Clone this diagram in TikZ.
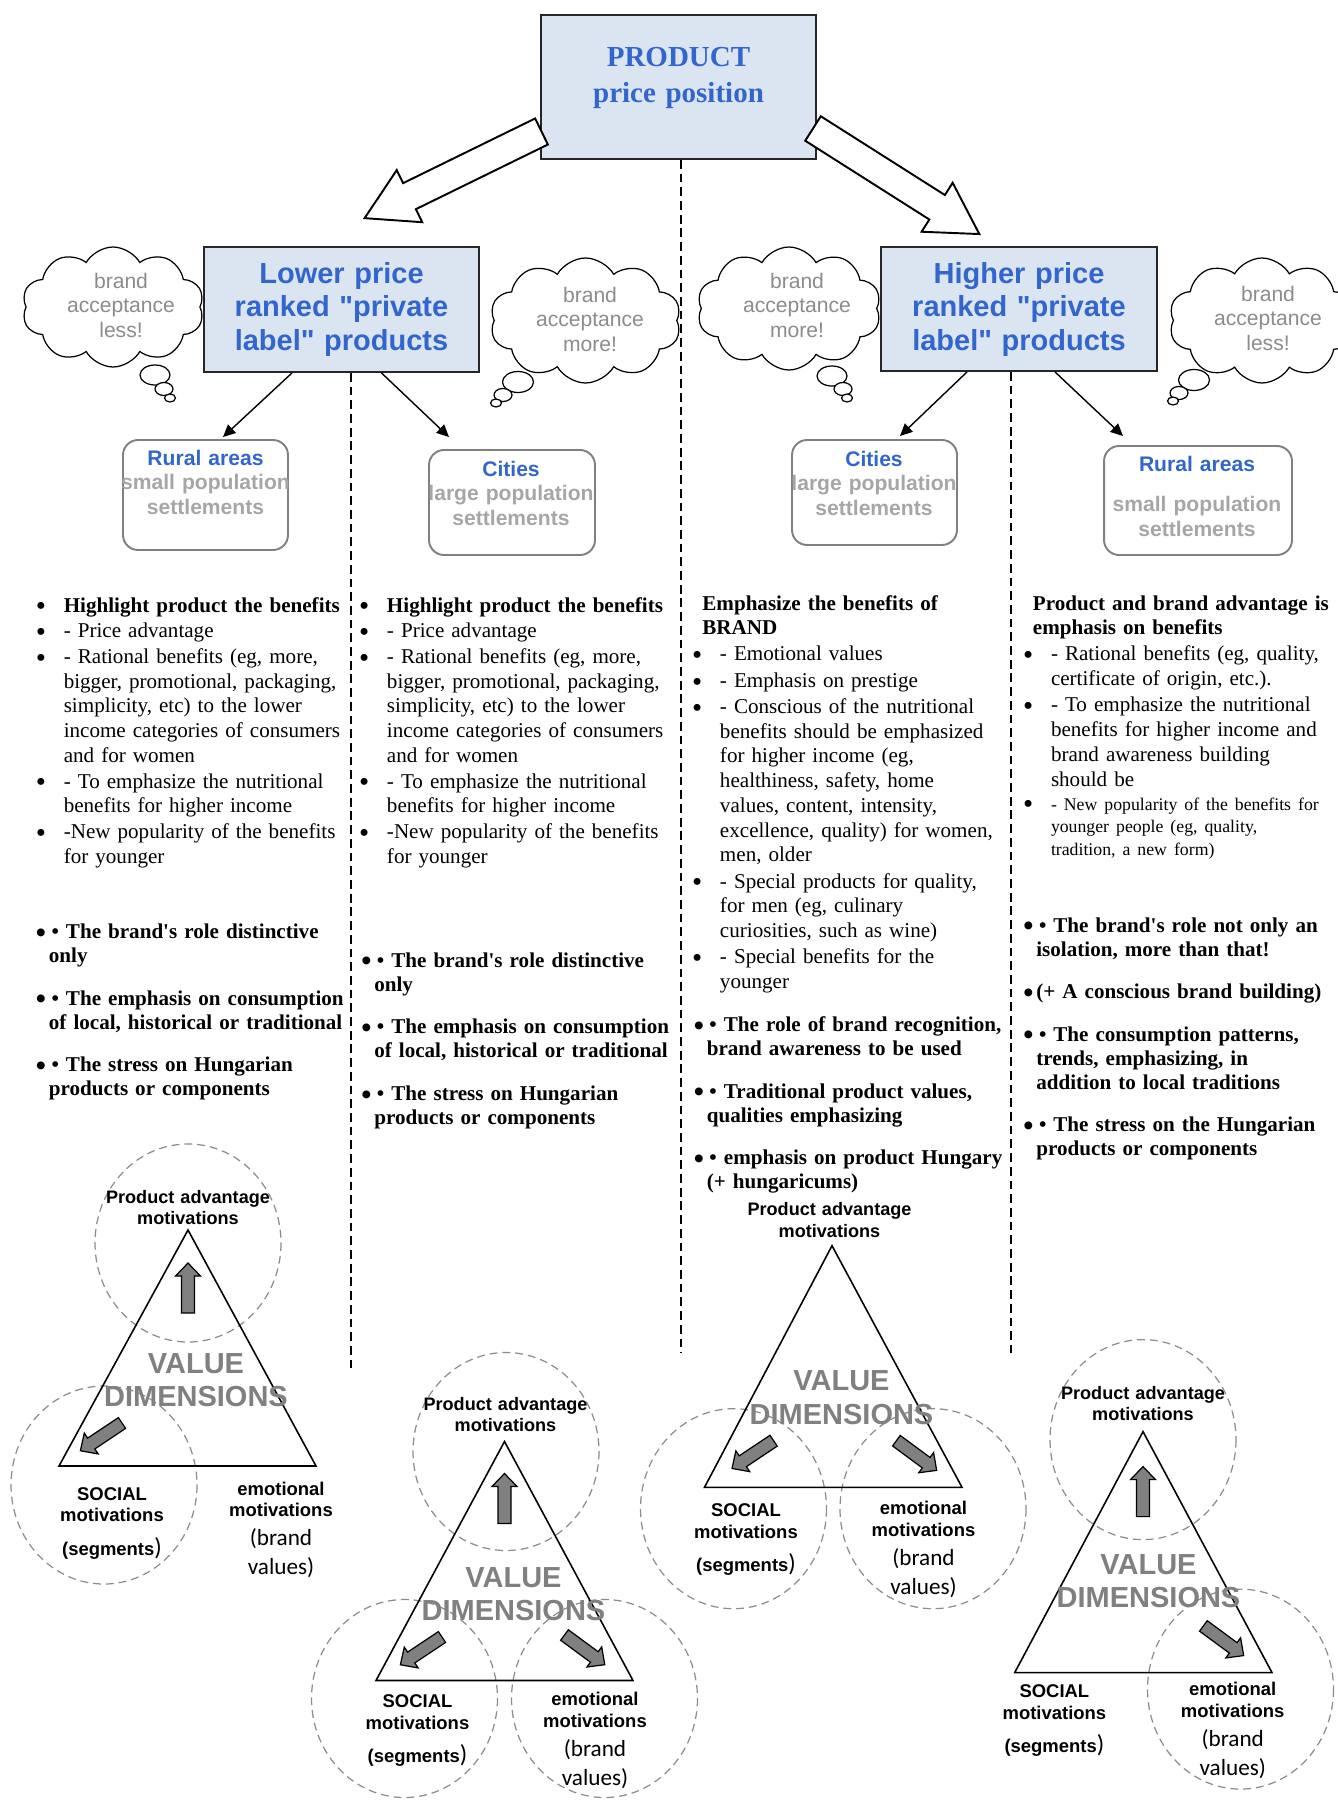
\documentclass[tikz,border=0pt]{standalone}
\usepackage{fontspec}
\setmainfont{Liberation Serif}
\setsansfont{Liberation Sans}
\newfontfamily\headsf{Liberation Sans}
\newfontfamily\calibri{Carlito}
\usetikzlibrary{arrows.meta,shapes.symbols,calc}

\definecolor{boxblue}{RGB}{219,229,241}
\definecolor{headblue}{RGB}{51,102,204}
\definecolor{palegray}{RGB}{166,166,166}
\definecolor{cloudgray}{RGB}{140,140,140}
\definecolor{dimgray}{RGB}{128,128,128}
\definecolor{ringgray}{RGB}{140,140,140}

% list items with hanging bullets
\newcommand{\bigdot}{\raisebox{-2.2pt}{\fontsize{16.5}{0}\selectfont\textbullet}}
\newcommand{\bitem}[1]{\hangindent=15.9pt\hangafter=1\noindent\makebox[15.9pt][l]{\bigdot}#1\par}
\newcommand{\bbitem}[1]{\hangindent=7.4pt\hangafter=1\noindent\makebox[7.4pt][l]{\bigdot}\kern1.5pt\textbullet\ #1\par}
\newcommand{\bsitem}[1]{\hangindent=7.4pt\hangafter=1\noindent\makebox[7.4pt][l]{\bigdot}#1\par}

\tikzset{
  hollowarr/.pic={\draw[line width=1.1pt, fill=white] (0,-14.5) -- (147,-14.5) -- (147,-29) -- (197,0) -- (147,29) -- (147,14.5) -- (0,14.5) -- cycle;},
  blkarr/.pic={\draw[line width=0.7pt, fill=dimgray] (0,-6.5) -- (37,-6.5) -- (37,-12.5) -- (50,0) -- (37,12.5) -- (37,6.5) -- (0,6.5) -- cycle;}
}

\begin{document}
\begin{tikzpicture}[x=0.02cm, y=-0.02cm,
  pricebox/.style={draw=black!85, line width=1.1pt, fill=boxblue, inner sep=0pt},
  areabox/.style={draw=black!50, line width=1.1pt, rounded corners=0.3cm, inner sep=0pt},
  thoughtcloud/.style={cloud, cloud puffs=10, cloud puff arc=120, cloud ignores aspect, draw, line width=0.7pt, fill=white, inner sep=0pt},
  thoughtdot/.style={draw, line width=0.7pt, fill=white},
  divline/.style={line width=0.8pt, dash pattern=on 5pt off 2.8pt},
  subarrow/.style={line width=0.8pt, -{Triangle[length=7pt,width=6.5pt]}},
  ctext/.style={inner sep=0pt, anchor=base, align=center},
  ltext/.style={inner sep=0pt, anchor=base west, text width=6.4cm},
  headfont/.style={font=\headsf\bfseries\fontsize{16.5}{19.1}\selectfont, text=headblue},
  cloudfont/.style={font=\sffamily\fontsize{12}{14}\selectfont, text=cloudgray},
  areafont/.style={font=\sffamily\bfseries\fontsize{12}{14.2}\selectfont, text=palegray},
  vtri/.style={line width=0.9pt},
  vring/.style={draw=ringgray, line width=0.7pt, dash pattern=on 4.5pt off 2.8pt},
  advfont/.style={font=\sffamily\bfseries\fontsize{10.3}{12.2}\selectfont},
  dimfont/.style={font=\sffamily\bfseries\fontsize{16.5}{19}\selectfont, text=dimgray},
  motfont/.style={font=\sffamily\bfseries\fontsize{10.5}{12.5}\selectfont}
]
\useasboundingbox (0,0) rectangle (1338,1801);

% thought clouds
\node[thoughtcloud, minimum width=3.64cm, minimum height=2.4cm] (cloudA) at (113,307) {};
\node[thoughtcloud, minimum width=3.82cm, minimum height=2.5cm] (cloudB) at (585.5,320.5) {};
\node[thoughtcloud, minimum width=3.68cm, minimum height=2.46cm] (cloudC) at (789,308.5) {};
\node[thoughtcloud, minimum width=3.72cm, minimum height=2.5cm] (cloudD) at (1262,320.5) {};
\draw[thoughtdot] (155,375) ellipse [x radius=15, y radius=10];
\draw[thoughtdot] (164,389) ellipse [x radius=9, y radius=6.5];
\draw[thoughtdot] (170,398) ellipse [x radius=5.5, y radius=4];
\draw[thoughtdot] (518,382) ellipse [x radius=15.5, y radius=10.5];
\draw[thoughtdot] (503,395) ellipse [x radius=9, y radius=6.5];
\draw[thoughtdot] (496,403) ellipse [x radius=5.5, y radius=4];
\draw[thoughtdot] (832,376) ellipse [x radius=15, y radius=10];
\draw[thoughtdot] (843,389) ellipse [x radius=9, y radius=6.5];
\draw[thoughtdot] (847,398) ellipse [x radius=5.5, y radius=4];
\draw[thoughtdot] (1194,380) ellipse [x radius=15.5, y radius=10.5];
\draw[thoughtdot] (1179,393) ellipse [x radius=9, y radius=6.5];
\draw[thoughtdot] (1173,401) ellipse [x radius=5.5, y radius=4];
\node[ctext, cloudfont, text width=3cm] (cloudAtxt) at (121,288) {brand\\acceptance\\less!};
\node[ctext, cloudfont, text width=3cm] (cloudBtxt) at (590,302) {brand\\acceptance\\more!};
\node[ctext, cloudfont, text width=3cm] (cloudCtxt) at (797,288) {brand\\acceptance\\more!};
\node[ctext, cloudfont, text width=3cm] (cloudDtxt) at (1268,301) {brand\\acceptance\\less!};

% price boxes
\node[pricebox, minimum width=5.5cm, minimum height=2.88cm] (prod) at (678.5,87) {};
\node[pricebox, minimum width=5.5cm, minimum height=2.5cm] (lowbox) at (341.5,309.5) {};
\node[pricebox, minimum width=5.52cm, minimum height=2.48cm] (highbox) at (1019,309) {};
\node[ctext, text width=5cm, text=headblue, font=\bfseries\fontsize{16.5}{20}\selectfont] (prodtxt) at (678.5,67) {PRODUCT\\price position};
\node[ctext, headfont, text width=5.4cm] (lowtxt) at (341.5,283) {Lower price\\ranked "private\\label" products};
\node[ctext, headfont, text width=5.4cm] (hightxt) at (1019,283) {Higher price\\ranked "private\\label" products};

\pic[rotate=206.1] at (541.5,131.5) {hollowarr};
\pic[rotate=-32.4] at (813,128.5) {hollowarr};

% settlement boxes
\node[areabox, minimum width=3.3cm, minimum height=2.2cm] (ruralA) at (205.5,495) {};
\node[areabox, minimum width=3.32cm, minimum height=2.1cm] (cityB) at (512,502.5) {};
\node[areabox, minimum width=3.3cm, minimum height=2.1cm] (cityC) at (874.5,492.5) {};
\node[areabox, minimum width=3.76cm, minimum height=2.18cm] (ruralD) at (1198,500.5) {};
\node[ctext, areafont, text width=4cm] (ruralAtxt) at (205.5,465) {\textcolor{headblue}{Rural areas}\\small population\\settlements};
\node[ctext, areafont, text width=4cm] (cityBtxt) at (511,476) {\textcolor{headblue}{Cities}\\large population\\settlements};
\node[ctext, areafont, text width=4cm] (cityCtxt) at (874,466) {\textcolor{headblue}{Cities}\\large population\\settlements};
\node[ctext, areafont, text width=4cm] (ruralDtxt) at (1197,471) {\textcolor{headblue}{Rural areas}\\[0.32cm]small population\\settlements};

\draw[subarrow] ($(lowbox.south)+(-49.5,0)$) -- ($(ruralA.north)+(17.5,-2)$);
\draw[subarrow] ($(lowbox.south)+(40,0)$) -- ($(cityB.north)+(-63,-12)$);
\draw[subarrow] ($(highbox.south)+(-52,0)$) -- ($(cityC.north)+(25.5,-3)$);
\draw[subarrow] ($(highbox.south)+(36,0)$) -- ($(ruralD.north)+(-75,-9)$);

% dividers
\coordinate (leftend) at (351,1372);
\coordinate (midend) at (681,1353);
\coordinate (rightend) at (1011,1353);
\draw[divline] (lowbox.south -| leftend) -- (leftend);
\draw[divline] (prod.south -| midend) -- (midend);
\draw[divline] (highbox.south -| rightend) -- (rightend);

% column texts
\node[ltext, font=\fontsize{12}{14.1}\selectfont] (listA) at (35.5,612) {\setlength{\parskip}{0.5pt}%
\bitem{\textbf{Highlight product the benefits}}
\bitem{- Price advantage}
\bitem{- Rational benefits (eg, more,\newline bigger, promotional, packaging,\newline simplicity, etc) to the lower\newline income categories of consumers\newline and for women}
\bitem{- To emphasize the nutritional\newline benefits for higher income}
\bitem{-New popularity of the benefits\newline for younger}};
\node[ltext, font=\fontsize{12}{14.1}\selectfont] (listB) at (358.7,612) {\setlength{\parskip}{0.5pt}%
\bitem{\textbf{Highlight product the benefits}}
\bitem{- Price advantage}
\bitem{- Rational benefits (eg, more,\newline bigger, promotional, packaging,\newline simplicity, etc) to the lower\newline income categories of consumers\newline and for women}
\bitem{- To emphasize the nutritional\newline benefits for higher income}
\bitem{-New popularity of the benefits\newline for younger}};
\node[ltext, font=\fontsize{12}{14.1}\selectfont] (listC) at (691.7,610) {\setlength{\parskip}{0.8pt}%
{\leftskip=5.9pt\textbf{Emphasize the benefits of\newline BRAND}\par}
\bitem{- Emotional values}
\bitem{- Emphasis on prestige}
\bitem{- Conscious of the nutritional\newline benefits should be emphasized\newline for higher income (eg,\newline healthiness, safety, home\newline values, content, intensity,\newline excellence, quality) for women,\newline men, older}
\bitem{- Special products for quality,\newline for men (eg, culinary\newline curiosities, such as wine)}
\bitem{- Special benefits for the\newline younger}};
\node[ltext, font=\fontsize{12}{14.1}\selectfont] (listD) at (1022.7,610) {\setlength{\parskip}{0.8pt}%
{\leftskip=5.6pt\textbf{Product and brand advantage is\newline emphasis on benefits}\par}
\bitem{- Rational benefits (eg, quality,\newline certificate of origin, etc.).}
\bitem{- To emphasize the nutritional\newline benefits for higher income and\newline brand awareness building\newline should be}
{\fontsize{10.1}{12.8}\selectfont\bitem{- New popularity of the benefits for\newline younger people (eg, quality,\newline tradition, a new form)}}};

\node[ltext, font=\bfseries\fontsize{12}{13.7}\selectfont] (boldA) at (35.6,938.5) {\setlength{\parskip}{10.5pt}%
\bbitem{The brand\textquotesingle s role distinctive\newline only}
\bbitem{The emphasis on consumption\newline of local, historical or traditional}
\bbitem{The stress on Hungarian\newline products or components}};
\node[ltext, font=\bfseries\fontsize{12}{13.7}\selectfont] (boldB) at (361,967) {\setlength{\parskip}{10.5pt}%
\bbitem{The brand\textquotesingle s role distinctive\newline only}
\bbitem{The emphasis on consumption\newline of local, historical or traditional}
\bbitem{The stress on Hungarian\newline products or components}};
\node[ltext, font=\bfseries\fontsize{12}{13.7}\selectfont] (boldC) at (693.5,1031.5) {\setlength{\parskip}{10.5pt}%
\bbitem{The role of brand recognition,\newline brand awareness to be used}
\bbitem{Traditional product values,\newline qualities emphasizing}
\bbitem{emphasis on product Hungary\newline (+ hungaricums)}};
\node[ltext, font=\bfseries\fontsize{12}{13.7}\selectfont] (boldD) at (1023,932) {\setlength{\parskip}{10.5pt}%
\bbitem{The brand\textquotesingle s role not only an\newline isolation, more than that!}
\bsitem{(+ A conscious brand building)}
\bbitem{The consumption patterns,\newline trends, emphasizing, in\newline addition to local traditions}
\bbitem{The stress on the Hungarian\newline products or components}};

% value triangles
\begin{scope}[shift={(188,1230)}]
  \draw[vring] (0,13) ellipse [x radius=93, y radius=99];
  \draw[vring] (-84,255) ellipse [x radius=93, y radius=99];
  \draw[vtri] (0,0) -- (-129,236) -- (128,236) -- cycle;
  \pic[rotate=90] at (0,83) {blkarr};
  \pic[rotate=213.7] at (-66,193) {blkarr};
  \node[ctext, advfont, text width=4cm] (advA) at (0,-27) {Product advantage\\motivations};
  \node[ctext, dimfont, text width=4.4cm] (dimA) at (8,143) {VALUE\\DIMENSIONS};
  \node[ctext, motfont, text width=3cm] (socA) at (-76,270) {SOCIAL\\motivations\\[6.3pt](segments{\calibri\mdseries\fontsize{14}{16}\selectfont)}};
  \node[ctext, motfont, text width=3cm] (emoA) at (93,265) {emotional\\motivations\\\calibri\mdseries\fontsize{13.2}{16.4}\selectfont (brand\\values)\par};
\end{scope}

\begin{scope}[shift={(504.5,1441.5)}]
  \draw[vring] (1.5,10) ellipse [x radius=93, y radius=99];
  \draw[vring] (-100,257) ellipse [x radius=93, y radius=99];
  \draw[vring] (100,257) ellipse [x radius=93, y radius=99];
  \draw[vtri] (0,0) -- (-128.5,239) -- (128.5,239) -- cycle;
  \pic[rotate=90] at (0,82) {blkarr};
  \pic[rotate=213.7] at (-62.5,195.5) {blkarr};
  \pic[rotate=-36.4] at (60,193.5) {blkarr};
  \node[ctext, advfont, text width=4cm] (advB) at (1,-31) {Product advantage\\motivations};
  \node[ctext, dimfont, text width=4.4cm] (dimB) at (9,146) {VALUE\\DIMENSIONS};
  \node[ctext, motfont, text width=3cm] (socB) at (-87,266) {SOCIAL\\motivations\\[6.3pt](segments{\calibri\mdseries\fontsize{14}{16}\selectfont)}};
  \node[ctext, motfont, text width=3cm] (emoB) at (90.5,264) {emotional\\motivations\\\calibri\mdseries\fontsize{13.2}{16.4}\selectfont (brand\\values)\par};
\end{scope}

\begin{scope}[shift={(832,1245.7)}]
  \draw[vring] (-98.5,263) ellipse [x radius=93, y radius=100];
  \draw[vring] (101,263) ellipse [x radius=93, y radius=100];
  \draw[vtri] (0,0) -- (-127.5,241.6) -- (130,241.6) -- cycle;
  \pic[rotate=213.7] at (-58.4,195) {blkarr};
  \pic[rotate=-36.4] at (64.4,195) {blkarr};
  \node[ctext, advfont, text width=4cm] (advC) at (-2.5,-30) {Product advantage\\motivations};
  \node[ctext, dimfont, text width=4.4cm] (dimC) at (9.5,145) {VALUE\\DIMENSIONS};
  \node[ctext, motfont, text width=3cm] (socC) at (-86,270.7) {SOCIAL\\motivations\\[6.3pt](segments{\calibri\mdseries\fontsize{14}{16}\selectfont)}};
  \node[ctext, motfont, text width=3cm] (emoC) at (91.5,269) {emotional\\motivations\\\calibri\mdseries\fontsize{13.2}{16.4}\selectfont (brand\\values)\par};
\end{scope}

\begin{scope}[shift={(1143,1431.6)}]
  \draw[vring] (0,8) ellipse [x radius=93, y radius=100];
  \draw[vring] (97.5,257.5) ellipse [x radius=93, y radius=100];
  \draw[vtri] (0,0) -- (-128.3,241) -- (129,241) -- cycle;
  \pic[rotate=90] at (0,85) {blkarr};
  \pic[rotate=-36.4] at (60.4,194.3) {blkarr};
  \node[ctext, advfont, text width=4cm] (advD) at (0,-32.6) {Product advantage\\motivations};
  \node[ctext, dimfont, text width=4.4cm] (dimD) at (5.5,142.5) {VALUE\\DIMENSIONS};
  \node[ctext, motfont, text width=3cm] (socD) at (-88.6,266) {SOCIAL\\motivations\\[6.3pt](segments{\calibri\mdseries\fontsize{14}{16}\selectfont)}};
  \node[ctext, motfont, text width=3cm] (emoD) at (89.7,264) {emotional\\motivations\\\calibri\mdseries\fontsize{13.2}{16.4}\selectfont (brand\\values)\par};
\end{scope}
\end{tikzpicture}
\end{document}
